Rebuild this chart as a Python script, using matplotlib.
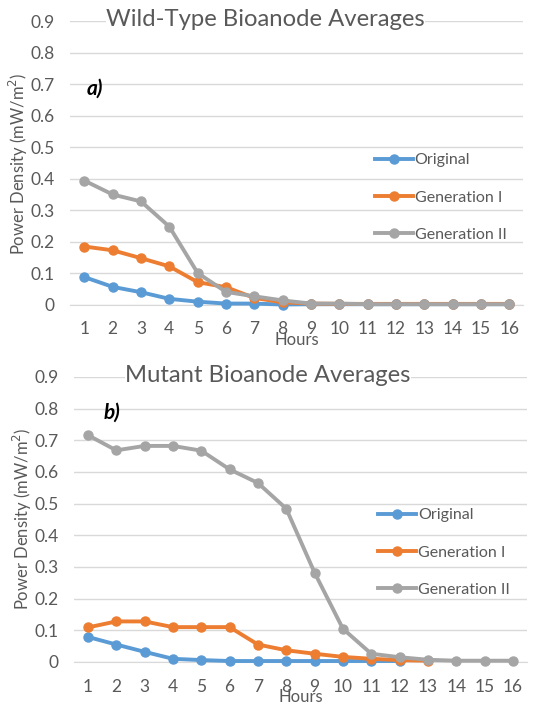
"""Wild-type vs mutant bioanode power density averages."""

import matplotlib
matplotlib.use("Agg")
import matplotlib.pyplot as plt

plt.rcParams["font.family"] = ["Lato", "DejaVu Sans"]

hours = list(range(1, 17))
series_names = ["Original", "Generation I", "Generation II"]
colors = ["#5B9BD5", "#ED7D31", "#A5A5A5"]
yticks = [0, 0.1, 0.2, 0.3, 0.4, 0.5, 0.6, 0.7, 0.8, 0.9]
ytick_labels = ["0", "0.1", "0.2", "0.3", "0.4", "0.5", "0.6", "0.7", "0.8", "0.9"]

# a) wild type
wt_original = [0.088, 0.057, 0.040, 0.019, 0.010, 0.004, 0.004, 0.001,
               0.002, 0.002, 0.002, 0.002, 0.002, 0.002, 0.002, 0.002]
wt_gen1 = [0.185, 0.173, 0.148, 0.122, 0.072, 0.056, 0.022, 0.008,
           0.004, 0.003, 0.003, 0.003, 0.003, 0.003, 0.003, 0.003]
wt_gen2 = [0.394, 0.350, 0.328, 0.248, 0.101, 0.041, 0.027, 0.014,
           0.004, 0.004, 0.002, 0.002, 0.002, 0.002, 0.002, 0.002]

# b) mutant
mut_original = [0.079, 0.055, 0.032, 0.010, 0.006, 0.003, 0.003, 0.003,
                0.003, 0.003, 0.003, 0.003]
mut_gen1 = [0.109, 0.128, 0.128, 0.110, 0.110, 0.110, 0.055, 0.037,
            0.026, 0.016, 0.010, 0.006, 0.004]
mut_gen2 = [0.716, 0.668, 0.682, 0.682, 0.667, 0.608, 0.565, 0.484,
            0.282, 0.105, 0.026, 0.015, 0.007, 0.004, 0.004, 0.004]

TXT = "#595959"
GRID = "#D9D9D9"


def panel(ax, data, tag, tag_xy, legend_xy):
    for vals, name, col in zip(data, series_names, colors):
        ax.plot(hours[:len(vals)], vals, color=col, lw=2.8, marker="o",
                markersize=6.5, label=name, clip_on=False, zorder=3)
    ax.set_xlim(0.5, 16.5)
    ax.set_ylim(0, 0.9)
    ax.set_xticks(hours)
    ax.set_yticks(yticks)
    ax.set_yticklabels(ytick_labels)
    ax.grid(axis="y", color=GRID, lw=1)
    ax.set_axisbelow(True)
    for s in ["top", "right", "left"]:
        ax.spines[s].set_visible(False)
    ax.spines["bottom"].set_color(GRID)
    ax.tick_params(length=0, labelsize=12.5, colors=TXT)
    ax.tick_params(axis="y", pad=11)
    ax.tick_params(axis="x", pad=12)
    ax.set_xlabel("Hours", fontsize=12, color=TXT, labelpad=-4)
    ax.text(tag_xy[0], tag_xy[1], tag, fontsize=15, fontweight="bold",
            fontstyle="italic", color="black", ha="center", va="center")
    ax.legend(loc="center left", bbox_to_anchor=legend_xy, frameon=False,
              fontsize=11.5, labelcolor=TXT, handlelength=2.4,
              handletextpad=0.1, labelspacing=1.45, borderpad=0,
              borderaxespad=0)


fig = plt.figure(figsize=(5.37, 7.04), dpi=100)
ax1 = fig.add_axes([0.1307, 0.567, 0.844, 0.403])
ax2 = fig.add_axes([0.1374, 0.0597, 0.844, 0.405])

panel(ax1, [wt_original, wt_gen1, wt_gen2], "a)", (1.375, 0.687), (0.672, 0.378))
panel(ax2, [mut_original, mut_gen1, mut_gen2], "b)", (1.85, 0.786), (0.671, 0.384))

fig.text(0.494, 0.973, "Wild-Type Bioanode Averages", fontsize=17.2, color=TXT,
         ha="center", va="center", bbox=dict(fc="white", ec="none", pad=0))
fig.text(0.499, 0.466, "Mutant Bioanode Averages", fontsize=17.2, color=TXT,
         ha="center", va="center", bbox=dict(fc="white", ec="none", pad=0))
fig.text(0.035, 1 - 164 / 704, "Power Density (mW/m$^2$)", fontsize=12,
         color=TXT, rotation=90, ha="center", va="center")
fig.text(0.041, 1 - 519 / 704, "Power Density (mW/m$^2$)", fontsize=12,
         color=TXT, rotation=90, ha="center", va="center")

fig.savefig("out.png", dpi=100)
